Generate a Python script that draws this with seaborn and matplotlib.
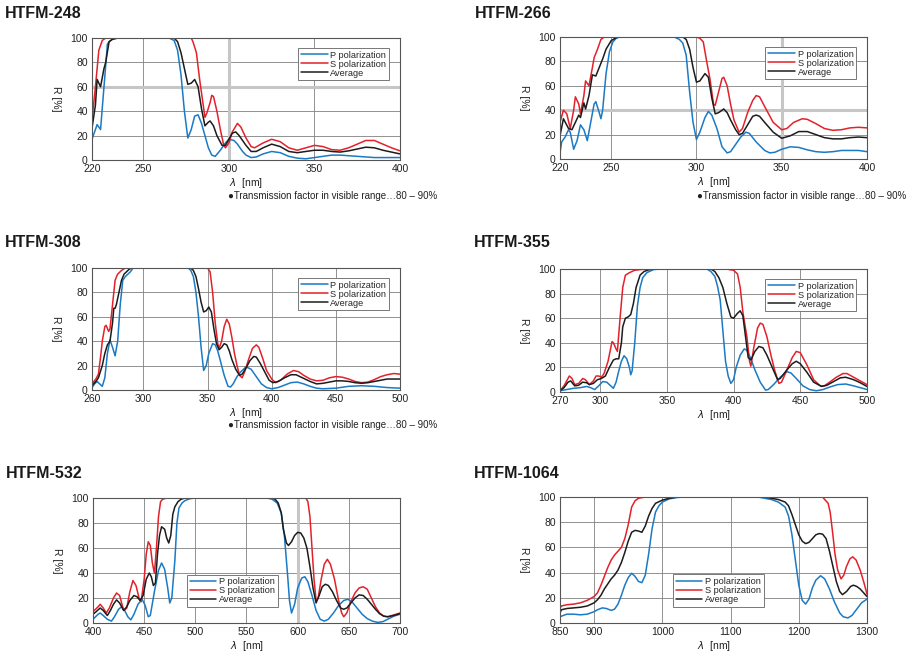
import pandas as pd
import matplotlib
matplotlib.use("Agg")
import matplotlib.pyplot as plt
import seaborn as sns

# ---- HTFM-248 ----
HTFM248_P_WL = [220, 223, 225, 227, 229, 230, 232, 235, 265, 268, 270, 272, 274, 276, 278, 280, 282, 284, 286, 288,
                290, 292, 295, 298, 300, 303, 305, 308, 310, 313, 316, 320, 325, 330, 335, 340, 345, 350, 355, 360,
                365, 370, 375, 380, 385, 390, 400]
HTFM248_P = [17, 29, 25, 60, 95, 97, 99, 100, 100, 98, 90, 70, 40, 18, 25, 36, 37, 30, 20, 10,
             4, 3, 8, 14, 17, 16, 13, 7, 4, 2, 2.5, 5, 7, 6, 3, 1.5, 1, 2, 3, 4,
             4, 3.5, 3, 2.5, 2, 2, 2]
HTFM248_S_WL = [220, 222, 224, 226, 228, 278, 279, 281, 283, 285, 286, 287, 289, 290, 291, 293, 295, 297, 298, 300,
                302, 305, 307, 310, 313, 315, 320, 325, 330, 335, 340, 345, 350, 355, 360, 365, 370, 375, 380, 385,
                390, 395, 400]
HTFM248_S = [33, 60, 90, 98, 100, 100, 97, 88, 65, 45, 35, 38, 47, 53, 52, 40, 25, 12, 10, 14,
             23, 30, 27, 18, 11, 10, 14, 17, 15, 10, 8, 10, 12, 11, 8.5, 8, 10, 13, 16, 16,
             13, 10, 7.5]
HTFM248_A_WL = [220, 222, 223, 225, 227, 228, 230, 232, 235, 268, 270, 272, 274, 276, 278, 280, 282, 284, 286, 288,
                289, 291, 293, 296, 298, 300, 302, 304, 306, 310, 313, 316, 320, 325, 330, 335, 340, 345, 350, 355,
                360, 365, 370, 375, 380, 385, 390, 400]
HTFM248_A = [26, 45, 66, 60, 75, 80, 97, 99, 100, 100, 97, 88, 75, 62, 63, 66, 60, 42, 28, 31,
             32, 28, 20, 12, 12, 17, 22, 23, 20, 12, 7, 7, 10, 13, 11, 7, 6, 7, 8, 8,
             7, 6.5, 7.5, 9, 10.5, 10, 8, 5]

# ---- HTFM-266 ----
HTFM266_P_WL = [220, 221, 223, 225, 226, 228, 230, 232, 234, 236, 238, 240, 241, 243, 244, 245, 247, 249, 251, 253,
                255, 287, 290, 292, 294, 296, 298, 300, 302, 305, 307, 309, 312, 315, 318, 320, 323, 326, 329, 331,
                335, 340, 343, 346, 350, 355, 360, 365, 370, 375, 380, 385, 390, 395, 400]
HTFM266_P = [5, 14, 18, 24, 22, 8, 15, 28, 24, 15, 30, 45, 47, 38, 33, 40, 70, 88, 96, 99,
             100, 100, 98, 95, 85, 55, 30, 16, 22, 34, 39, 36, 25, 10, 5, 6, 12, 18, 22, 21,
             14, 7, 5, 5.5, 8, 10, 9.5, 7.5, 6, 5.5, 6, 7, 7, 7, 6]
HTFM266_S_WL = [220, 222, 224, 226, 228, 229, 231, 232, 234, 235, 237, 239, 240, 242, 244, 246, 300, 302, 304, 306,
                308, 310, 311, 313, 315, 316, 318, 320, 322, 325, 327, 330, 333, 335, 337, 340, 345, 350, 353, 357,
                362, 365, 370, 375, 380, 385, 390, 395, 400]
HTFM266_S = [30, 40, 37, 25, 40, 51, 45, 37, 52, 64, 60, 75, 83, 90, 98, 100, 100, 99, 96, 80,
             65, 45, 44, 55, 66, 67, 60, 45, 32, 22, 25, 38, 48, 52, 51, 43, 30, 24, 25, 30,
             33, 32.5, 29, 25, 23.5, 24, 25.5, 26, 25.5]
HTFM266_A_WL = [220, 222, 225, 227, 229, 231, 232, 234, 235, 237, 239, 241, 243, 245, 247, 250, 253, 255, 292, 294,
                296, 298, 300, 302, 305, 307, 309, 311, 313, 316, 318, 320, 323, 325, 327, 330, 333, 335, 337, 340,
                345, 350, 355, 360, 365, 370, 375, 380, 385, 390, 395, 400]
HTFM266_A = [19, 33, 25, 24, 30, 36, 34, 46, 41, 52, 69, 68, 75, 82, 90, 97, 99.5, 100, 100, 98,
             90, 75, 63, 64, 70, 67, 50, 37, 38, 41, 38, 32, 24, 20, 21, 28, 35, 36, 35, 30,
             22, 17, 19, 22.5, 22.5, 20, 17.5, 16.5, 16.5, 17.5, 18, 17.5]

# ---- HTFM-308 ----
HTFM308_P_WL = [260, 262, 264, 266, 268, 270, 272, 274, 276, 278, 280, 282, 284, 286, 288, 290, 292, 335, 337, 339,
                341, 343, 345, 347, 349, 351, 354, 356, 358, 360, 363, 366, 368, 370, 373, 376, 380, 384, 388, 392,
                396, 400, 405, 410, 415, 420, 425, 430, 435, 440, 450, 460, 470, 480, 490, 500]
HTFM308_P = [2, 5, 7, 5, 3, 10, 30, 41, 35, 28, 40, 70, 90, 93, 95, 97, 100, 100, 98, 93,
             80, 60, 35, 16, 20, 30, 38, 37, 32, 24, 12, 3, 2.5, 5, 11, 15, 19, 17, 11, 5,
             2, 1, 2, 4, 6, 6.5, 5, 3, 1.5, 1, 1.5, 3, 3.5, 3, 2, 1.5]
HTFM308_S_WL = [260, 263, 265, 267, 268, 270, 271, 273, 274, 276, 278, 280, 283, 286, 350, 352, 354, 356, 358, 359,
                361, 363, 365, 367, 369, 371, 373, 375, 377, 379, 382, 385, 388, 390, 393, 396, 400, 403, 407, 412,
                417, 421, 425, 430, 435, 440, 445, 450, 455, 460, 465, 470, 475, 480, 485, 490, 495, 500]
HTFM308_S = [5, 9, 13, 30, 40, 52, 53, 48, 50, 70, 90, 95, 98, 100, 100, 97, 80, 55, 38, 34,
             40, 52, 58, 54, 43, 30, 20, 12, 10, 15, 25, 34, 37, 35, 26, 16, 9, 6, 8, 13,
             16, 15, 12, 9, 7.5, 8, 10, 11, 10.5, 9, 7, 6, 6.5, 8.5, 11, 12.5, 13.5, 13]
HTFM308_A_WL = [260, 263, 265, 268, 270, 272, 274, 276, 277, 278, 279, 281, 283, 285, 287, 289, 291, 337, 339, 341,
                343, 345, 347, 349, 351, 353, 355, 357, 359, 361, 363, 365, 367, 369, 372, 375, 377, 380, 383, 386,
                388, 391, 395, 398, 401, 405, 410, 415, 419, 424, 430, 435, 440, 445, 450, 455, 460, 465, 470, 475,
                480, 485, 490, 495, 500]
HTFM308_A = [3.5, 7, 10, 20, 30, 37, 40, 55, 67, 67, 70, 80, 90, 95, 97, 99, 100, 100, 98, 93,
             83, 72, 64, 65, 68, 64, 50, 38, 33, 35, 38, 37, 32, 25, 17, 12, 13, 18, 24, 27.5,
             27, 22, 14, 8, 6, 7, 10, 12.5, 12.5, 10, 7, 5, 5.5, 6.5, 7.5, 7.5, 7, 6, 5.5, 6,
             7, 8, 9, 9, 9]

# ---- HTFM-355 ----
HTFM355_P_WL = [270, 275, 280, 285, 290, 293, 296, 299, 302, 305, 308, 310, 312, 314, 316, 318, 320, 322, 323, 324,
                326, 328, 330, 332, 335, 340, 345, 380, 383, 386, 388, 390, 392, 394, 396, 398, 400, 402, 405, 408,
                410, 413, 416, 420, 424, 426, 430, 435, 440, 443, 447, 452, 457, 462, 467, 472, 478, 484, 490, 495,
                500]
HTFM355_P = [1, 2, 3, 3.5, 4.5, 3.5, 2, 5, 8.5, 8, 5, 3, 8, 17, 25, 29.5, 27, 20, 14, 17,
             40, 70, 85, 93, 97, 99.5, 100, 100, 98, 94, 86, 75, 50, 25, 13, 7, 10, 20, 30, 35,
             34, 27, 18, 8, 1.5, 2, 6, 12, 16.5, 15.5, 11, 5, 2, 1, 2, 4, 6, 6.5, 5, 3.5,
             2]
HTFM355_S_WL = [270, 273, 277, 279, 281, 284, 287, 289, 292, 295, 297, 299, 301, 303, 306, 309, 310, 312, 313, 315,
                317, 319, 322, 326, 330, 335, 395, 397, 400, 403, 405, 407, 410, 412, 413, 415, 418, 420, 422, 425,
                428, 431, 434, 436, 440, 444, 447, 450, 455, 460, 465, 468, 472, 477, 482, 485, 490, 495, 500]
HTFM355_S = [1, 5, 13, 11, 6, 7, 11, 10, 6, 9, 13, 13, 12, 15, 25, 41, 40, 35, 33, 60,
             85, 95, 97, 99, 99.5, 100, 100, 99.5, 99, 96, 85, 65, 45, 25, 21, 35, 52, 56, 55, 45,
             30, 17, 7, 8, 18, 28, 33, 32, 22, 10, 5, 5, 8, 12, 15, 15, 12, 9, 6]
HTFM355_A_WL = [270, 273, 276, 278, 281, 284, 287, 290, 292, 295, 298, 301, 304, 307, 310, 312, 314, 316, 317, 319,
                321, 323, 325, 327, 330, 333, 337, 340, 383, 386, 389, 392, 395, 398, 400, 403, 405, 407, 409, 411,
                413, 416, 419, 422, 425, 429, 433, 435, 440, 444, 447, 450, 455, 460, 466, 470, 475, 480, 484, 490,
                495, 500]
HTFM355_A = [1, 3.5, 8, 9, 5, 5.5, 8, 7.5, 6, 7, 10, 11, 13, 20, 26, 27, 27, 40, 53, 60,
             61, 63, 72, 85, 95, 98, 99.5, 100, 100, 98, 93, 85, 72, 61, 60, 64, 66, 62, 45, 28,
             26, 33, 37, 36, 30, 20, 10, 11, 18, 23, 25, 23, 16, 8, 4.5, 5.5, 8.5, 11.5, 12, 10,
             7.5, 4.5]

# ---- HTFM-532 ----
HTFM532_P_WL = [400, 405, 407, 410, 414, 418, 421, 425, 428, 431, 434, 437, 440, 444, 448, 451, 454, 456, 460, 464,
                467, 470, 473, 475, 477, 480, 482, 484, 487, 490, 495, 500, 570, 575, 580, 584, 587, 590, 592, 594,
                597, 600, 604, 607, 610, 614, 618, 622, 626, 630, 635, 640, 645, 649, 653, 658, 663, 668, 673, 678,
                683, 688, 694, 700]
HTFM532_P = [3, 7, 8, 6, 3, 1.5, 5, 11, 13, 10, 5, 2.5, 7, 15, 19, 14, 5, 6, 25, 42,
             48, 43, 28, 16, 20, 50, 80, 92, 96, 98, 99.5, 100, 100, 99, 96, 88, 70, 40, 18, 8,
             15, 28, 36, 37, 33, 22, 10, 3, 1.5, 3, 8, 14, 18, 19, 17, 12, 7, 3.5, 1.5, 0.5,
             1, 3, 5.5, 7]
HTFM532_S_WL = [400, 405, 407, 410, 413, 416, 420, 423, 426, 430, 433, 436, 439, 442, 445, 447, 450, 452, 454, 456,
                458, 460, 462, 464, 466, 468, 472, 608, 610, 612, 614, 616, 618, 620, 623, 626, 629, 632, 636, 640,
                643, 645, 648, 652, 656, 660, 664, 668, 672, 676, 680, 684, 688, 694, 700]
HTFM532_S = [9, 13, 15, 12, 8, 12, 20, 24, 22, 10, 12, 25, 34, 30, 20, 17, 35, 55, 65, 62,
             48, 40, 60, 85, 97, 99, 100, 100, 97, 85, 60, 35, 18, 20, 35, 47, 51, 47, 35, 18,
             8, 5, 8, 17, 24, 28, 29, 27, 20, 13, 8, 5.5, 5, 6.5, 8]
HTFM532_A_WL = [400, 403, 407, 410, 414, 417, 420, 423, 426, 430, 433, 436, 440, 443, 446, 449, 452, 455, 457, 459,
                461, 463, 465, 467, 470, 472, 474, 476, 478, 480, 483, 486, 490, 575, 578, 581, 584, 586, 589, 591,
                594, 597, 600, 603, 606, 609, 612, 615, 618, 621, 624, 627, 630, 634, 638, 642, 645, 648, 652, 656,
                660, 664, 668, 672, 676, 680, 684, 688, 694, 700]
HTFM532_A = [7, 9, 12, 10, 6, 10, 15, 18.5, 16, 10, 13, 18, 22, 21, 18, 22, 35, 40, 37, 30,
             32, 55, 70, 77, 75, 68, 64, 70, 87, 93, 97, 99, 100, 100, 99, 96, 88, 75, 64, 62,
             65, 70, 72.5, 72, 68, 60, 45, 28, 16, 22, 29, 31, 30, 25, 18, 12, 11, 12, 16, 20,
             22.5, 22, 19, 15, 11, 7.5, 5.5, 5, 6, 7.5]

# ---- HTFM-1064 ----
HTFM1064_P_WL = [850, 855, 860, 870, 880, 890, 900, 905, 912, 918, 925, 930, 935, 940, 945, 950, 955, 960, 965, 970,
                 975, 980, 985, 990, 995, 1000, 1010, 1020, 1030, 1140, 1150, 1160, 1170, 1180, 1185, 1190, 1195, 1200,
                 1205, 1210, 1215, 1220, 1225, 1232, 1238, 1245, 1252, 1260, 1265, 1272, 1278, 1285, 1292, 1300]
HTFM1064_P = [5, 6, 7, 7, 6.5, 7, 9, 10.5, 12, 11.5, 10, 11, 15, 22, 30, 36, 39.5, 37, 33, 32,
              38, 55, 75, 88, 93, 96, 98.5, 99.5, 100, 100, 99, 98, 96, 92, 85, 70, 50, 30,
              18, 15, 19, 28, 34, 37.5, 35, 27, 17, 8, 5, 4, 6, 11, 16, 19]
HTFM1064_S_WL = [850, 852, 860, 870, 880, 890, 900, 905, 910, 915, 920, 925, 930, 935, 940, 945, 950, 955, 960, 965,
                 975, 1235, 1238, 1243, 1246, 1250, 1253, 1257, 1262, 1266, 1270, 1275, 1279, 1284, 1290, 1295, 1300]
HTFM1064_S = [12, 13.5, 14.5, 15, 16, 18, 21, 24, 30, 37, 44, 50, 54, 57, 60, 67, 78, 92, 97, 99,
              100, 100, 98, 95, 88, 70, 55, 42, 35, 38, 45, 51, 52.5, 50, 42, 33, 23]
HTFM1064_A_WL = [850, 852, 860, 870, 880, 890, 900, 905, 910, 915, 920, 925, 930, 935, 940, 945, 950, 955, 960, 965,
                 970, 975, 980, 985, 990, 1000, 1010, 1020, 1030, 1150, 1160, 1170, 1180, 1185, 1190, 1195, 1200, 1205,
                 1210, 1215, 1220, 1225, 1230, 1235, 1240, 1245, 1250, 1255, 1260, 1264, 1270, 1276, 1280, 1285, 1290,
                 1295, 1300]
HTFM1064_A = [8, 10.5, 11.5, 12, 12.5, 13.5, 16, 18.5, 22, 27, 31, 35, 38, 42, 48, 56, 65, 72, 73.5, 73,
              72, 77, 85, 91, 95, 97.5, 99, 99.8, 100, 100, 99, 98, 96, 93, 86, 78, 70, 65,
              63, 64, 67, 70, 71, 70.5, 67, 57, 45, 33, 25, 22.5, 25, 29, 30, 29, 27,
              24, 21]

SERIES = ['P polarization', 'S polarization', 'Average']
COLORS = {'P polarization': '#1a7ac4', 'S polarization': '#e3212b', 'Average': '#1c1c1c'}
FOOTNOTE = '\u25cfTransmission factor in visible range\u202680 \u2013 90%'

sns.set_theme(style='white')
plt.rcParams['font.family'] = ['Liberation Sans', 'DejaVu Sans']

fig = plt.figure(figsize=(9.11, 6.58), dpi=100)
W, H = 911, 658


def make_df(p_wl, p, s_wl, s, a_wl, a):
    parts = []
    for name, wl, r in zip(SERIES, [p_wl, s_wl, a_wl], [p, s, a]):
        parts.append(pd.DataFrame({'wl': wl, 'R': r, 'series': name}))
    return pd.concat(parts, ignore_index=True)


def panel(box, title, title_xy, df, xlim, xticks, leg_anchor, leg_loc,
          footnote_xy=None, heavy_x=None, heavy_y=None):
    x0, y0, x1, y1 = box
    ax = fig.add_axes([x0 / W, 1 - y1 / H, (x1 - x0) / W, (y1 - y0) / H])
    # faint heavier grid lines seen in the scanned original
    if heavy_x is not None:
        ax.axvline(heavy_x, color='#c6c6c6', linewidth=2.2, zorder=1)
    if heavy_y is not None:
        ax.axhline(heavy_y, color='#c6c6c6', linewidth=2.2, zorder=1)
    sns.lineplot(data=df, x='wl', y='R', hue='series', palette=COLORS, hue_order=SERIES,
                 linewidth=1.1, ax=ax, estimator=None, sort=False)
    ax.set_xlim(*xlim)
    ax.set_ylim(0, 100)
    ax.set_xticks(xticks)
    ax.set_yticks([0, 20, 40, 60, 80, 100])
    ax.grid(True, color='#808080', linewidth=0.6)
    ax.set_axisbelow(True)
    for sp in ax.spines.values():
        sp.set_color('#555555')
        sp.set_linewidth(0.8)
    ax.tick_params(labelsize=7.5, length=0, pad=3, colors='#222222')
    ax.set_xlabel('$\\lambda$  [nm]', fontsize=7.5, labelpad=1, color='#222222')
    ax.set_ylabel('R [%]', fontsize=7.5, rotation=-90, labelpad=14, color='#222222')
    handles, labels = ax.get_legend_handles_labels()
    leg = ax.legend(handles, labels, loc=leg_loc, bbox_to_anchor=leg_anchor, fontsize=6.6,
                    frameon=True, fancybox=False, framealpha=1, edgecolor='#777777',
                    handlelength=2.9, handletextpad=0.3, labelspacing=0.0, borderpad=0.3,
                    borderaxespad=0)
    leg.get_frame().set_linewidth(0.7)
    fig.text(title_xy[0] / W, 1 - title_xy[1] / H, title, fontsize=11.5, fontweight='bold',
             va='center', ha='left', color='#1a1a1a')
    if footnote_xy is not None:
        fig.text(footnote_xy[0] / W, 1 - footnote_xy[1] / H, FOOTNOTE, fontsize=7,
                 va='center', ha='right', color='#222222',
                 family=['Liberation Sans', 'DejaVu Sans'])
    return ax


panel((92, 38, 400, 160), 'HTFM-248', (5, 13),
      make_df(HTFM248_P_WL, HTFM248_P, HTFM248_S_WL, HTFM248_S, HTFM248_A_WL, HTFM248_A),
      (220, 400), [220, 250, 300, 350, 400], (0.965, 0.92), 'upper right', (437, 196),
      heavy_x=300, heavy_y=60)
panel((560, 37, 867, 159), 'HTFM-266', (475, 13),
      make_df(HTFM266_P_WL, HTFM266_P, HTFM266_S_WL, HTFM266_S, HTFM266_A_WL, HTFM266_A),
      (220, 400), [220, 250, 300, 350, 400], (0.965, 0.92), 'upper right', (906, 196),
      heavy_x=350, heavy_y=40)
panel((92, 268, 400, 390), 'HTFM-308', (5, 243),
      make_df(HTFM308_P_WL, HTFM308_P, HTFM308_S_WL, HTFM308_S, HTFM308_A_WL, HTFM308_A),
      (260, 500), [260, 300, 350, 400, 450, 500], (0.965, 0.92), 'upper right', (437, 425))
panel((560, 269, 867, 392), 'HTFM-355', (474, 243),
      make_df(HTFM355_P_WL, HTFM355_P, HTFM355_S_WL, HTFM355_S, HTFM355_A_WL, HTFM355_A),
      (270, 500), [270, 300, 350, 400, 450, 500], (0.965, 0.92), 'upper right')
panel((93, 498, 400, 623), 'HTFM-532', (6, 474),
      make_df(HTFM532_P_WL, HTFM532_P, HTFM532_S_WL, HTFM532_S, HTFM532_A_WL, HTFM532_A),
      (400, 700), [400, 450, 500, 550, 600, 650, 700], (0.306, 0.128), 'lower left',
      heavy_x=600)
panel((560, 497, 867, 623), 'HTFM-1064', (474, 474),
      make_df(HTFM1064_P_WL, HTFM1064_P, HTFM1064_S_WL, HTFM1064_S, HTFM1064_A_WL, HTFM1064_A),
      (850, 1300), [850, 900, 1000, 1100, 1200, 1300], (0.368, 0.128), 'lower left')

fig.savefig('out.png', dpi=100)
